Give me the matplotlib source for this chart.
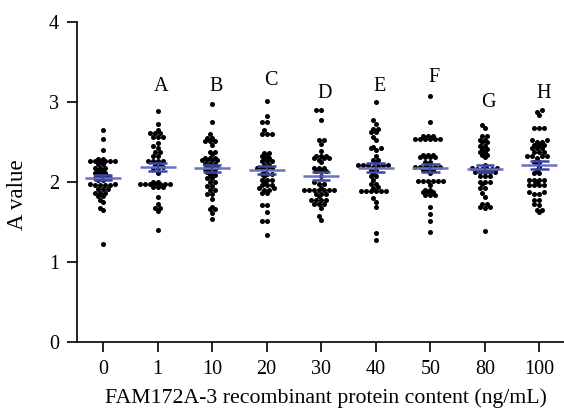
import numpy as np
import matplotlib
matplotlib.use("Agg")
import matplotlib.pyplot as plt

# concentrations (ng/mL) and group letters
doses = ["0", "1", "10", "20", "30", "40", "50", "80", "100"]
letters = ["", "A", "B", "C", "D", "E", "F", "G", "H"]
letter_y = [0, 3.19, 3.19, 3.27, 3.11, 3.19, 3.30, 2.99, 3.11]

# A values, one list per group
g0 = [2.65, 2.54, 2.40, 2.29, 2.29, 2.26, 2.26, 2.26, 2.26, 2.26, 2.26, 2.22, 2.22,
      2.17, 2.17, 2.17, 2.14, 2.14, 2.11, 2.11, 2.11, 2.08, 2.08, 2.08, 2.05, 2.05,
      2.05, 2.05, 2.02, 2.02, 1.97, 1.97, 1.96, 1.96, 1.96, 1.96, 1.91, 1.91, 1.91,
      1.86, 1.86, 1.86, 1.83, 1.83, 1.78, 1.75, 1.68, 1.65, 1.23]
g1 = [2.89, 2.72, 2.65, 2.61, 2.61, 2.61, 2.56, 2.56, 2.56, 2.49, 2.45, 2.43, 2.37,
      2.37, 2.32, 2.32, 2.26, 2.26, 2.26, 2.26, 2.21, 2.21, 2.19, 2.17, 2.17, 2.11,
      2.00, 2.00, 1.97, 1.97, 1.97, 1.97, 1.97, 1.97, 1.97, 1.94, 1.94, 1.94, 1.81,
      1.73, 1.68, 1.68, 1.64, 1.40]
g10 = [2.98, 2.75, 2.60, 2.55, 2.55, 2.51, 2.51, 2.51, 2.46, 2.38, 2.38, 2.35, 2.30,
       2.30, 2.30, 2.27, 2.27, 2.27, 2.27, 2.23, 2.23, 2.23, 2.19, 2.19, 2.19, 2.16,
       2.16, 2.16, 2.13, 2.13, 2.09, 2.09, 2.05, 2.05, 2.00, 2.00, 1.95, 1.95, 1.90,
       1.90, 1.85, 1.85, 1.79, 1.69, 1.66, 1.66, 1.61, 1.54]
g20 = [3.01, 2.82, 2.75, 2.75, 2.65, 2.60, 2.60, 2.60, 2.36, 2.36, 2.33, 2.33, 2.30,
       2.30, 2.26, 2.26, 2.26, 2.21, 2.21, 2.18, 2.18, 2.18, 2.18, 2.13, 2.10, 2.10,
       2.10, 2.07, 2.03, 2.03, 2.03, 2.00, 1.96, 1.96, 1.96, 1.92, 1.92, 1.90, 1.90,
       1.86, 1.86, 1.71, 1.71, 1.63, 1.51, 1.51, 1.34]
g30 = [2.90, 2.90, 2.77, 2.52, 2.52, 2.47, 2.39, 2.33, 2.33, 2.33, 2.30, 2.30, 2.30,
       2.28, 2.25, 2.18, 2.18, 2.18, 2.14, 2.14, 2.14, 2.07, 2.00, 1.98, 1.98, 1.93,
       1.90, 1.90, 1.90, 1.90, 1.90, 1.90, 1.90, 1.85, 1.85, 1.85, 1.82, 1.78, 1.78,
       1.78, 1.78, 1.72, 1.72, 1.72, 1.68, 1.57, 1.52]
g40 = [3.00, 2.77, 2.73, 2.66, 2.66, 2.63, 2.63, 2.56, 2.52, 2.44, 2.42, 2.42, 2.40,
       2.33, 2.28, 2.27, 2.24, 2.21, 2.21, 2.21, 2.21, 2.21, 2.20, 2.19, 2.15, 2.15,
       2.11, 2.07, 2.07, 2.03, 1.98, 1.98, 1.94, 1.93, 1.89, 1.89, 1.89, 1.89, 1.89,
       1.89, 1.80, 1.75, 1.69, 1.36, 1.27]
g50 = [3.08, 2.75, 2.58, 2.58, 2.58, 2.54, 2.54, 2.54, 2.54, 2.54, 2.54, 2.34, 2.34,
       2.34, 2.31, 2.31, 2.31, 2.31, 2.25, 2.25, 2.22, 2.19, 2.19, 2.19, 2.19, 2.19,
       2.19, 2.15, 2.15, 2.15, 2.11, 2.01, 2.01, 2.01, 2.01, 2.01, 2.01, 1.96, 1.90,
       1.90, 1.87, 1.87, 1.87, 1.84, 1.84, 1.84, 1.69, 1.60, 1.51, 1.37]
g80 = [2.71, 2.68, 2.57, 2.57, 2.53, 2.53, 2.50, 2.50, 2.45, 2.45, 2.41, 2.41, 2.38,
       2.38, 2.34, 2.34, 2.31, 2.21, 2.18, 2.18, 2.16, 2.16, 2.16, 2.16, 2.13, 2.13,
       2.13, 2.13, 2.13, 2.07, 2.07, 2.07, 2.00, 2.00, 2.00, 1.97, 1.93, 1.93, 1.86,
       1.81, 1.72, 1.72, 1.69, 1.69, 1.67, 1.39]
g100 = [2.90, 2.88, 2.84, 2.67, 2.67, 2.67, 2.52, 2.52, 2.50, 2.50, 2.46, 2.46, 2.46,
        2.43, 2.43, 2.43, 2.38, 2.38, 2.38, 2.32, 2.32, 2.32, 2.32, 2.30, 2.25, 2.25,
        2.22, 2.19, 2.15, 2.11, 2.11, 2.03, 2.03, 2.03, 2.03, 2.00, 1.96, 1.96, 1.96,
        1.96, 1.87, 1.87, 1.85, 1.85, 1.78, 1.78, 1.73, 1.71, 1.65, 1.65, 1.62]
groups = [g0, g1, g10, g20, g30, g40, g50, g80, g100]

plt.rcParams['font.family'] = ['Liberation Serif', 'DejaVu Serif']


def row_offsets(vals, step, tol=0.025, close=0.056):
    """Prism-style scatter: values within tol share a row; rows that sit close
    to the row below are staggered by half a dot."""
    ys = np.sort(np.asarray(vals))
    xs = []
    start, k, half, prev_start, prev_half = None, 0, False, None, False
    for v in ys:
        if start is None or v - start > tol:
            prev_start, prev_half = start, half
            start, k = v, 0
            half = prev_start is not None and (v - prev_start) < close and not prev_half
        if half:
            off = (k // 2 + 0.5) * (-1 if k % 2 == 0 else 1)
        else:
            off = (k + 1) // 2 * (-1 if k % 2 == 1 else 1)
        xs.append(off * step)
        k += 1
    return np.array(xs), ys


fig = plt.figure(figsize=(5.64, 4.13), dpi=100)
ax = fig.add_axes([0.1365, 0.172, 0.8635, 0.775])
ax.set_xlim(-0.476, 8.45)
ax.set_ylim(0, 4)

# dot spacing of ~5 px in x data units
step = 5.0 / (0.8635 * 564 / (8.45 + 0.476))

for i, g in enumerate(groups):
    xo, yv = row_offsets(g, step)
    ax.scatter(i + xo, yv, s=13, color="black", linewidths=0, zorder=2)

    arr = np.array(g)
    m = arr.mean()
    sem = arr.std(ddof=1) / np.sqrt(len(arr))
    ax.hlines(m, i - 0.33, i + 0.33, color="#6a72c4", lw=1.8, zorder=4)
    ax.vlines(i, m - sem, m + sem, color="#3c46a6", lw=1.4, zorder=4)
    ax.hlines([m - sem, m + sem], i - 0.17, i + 0.17, color="#3c46a6", lw=1.8, zorder=4)
    if letters[i]:
        ax.text(i + 0.07, letter_y[i], letters[i], ha="center", va="center", fontsize=14.5)

ax.set_xticks(range(len(doses)))
ax.set_xticklabels(doses)
ax.set_yticks([0, 1, 2, 3, 4])
ax.spines['top'].set_visible(False)
ax.spines['right'].set_visible(False)
for s in ['left', 'bottom']:
    ax.spines[s].set_linewidth(1.2)
ax.tick_params(length=7, width=1.2, labelsize=14.5, pad=6)
ax.set_xlabel("FAM172A-3 recombinant protein content (ng/mL)", fontsize=15.7)
ax.xaxis.set_label_coords(0.511, -0.146)
ax.set_ylabel("A value", fontsize=16.5)
ax.yaxis.set_label_coords(-0.10, 0.46)

fig.savefig("out.png", dpi=100)
